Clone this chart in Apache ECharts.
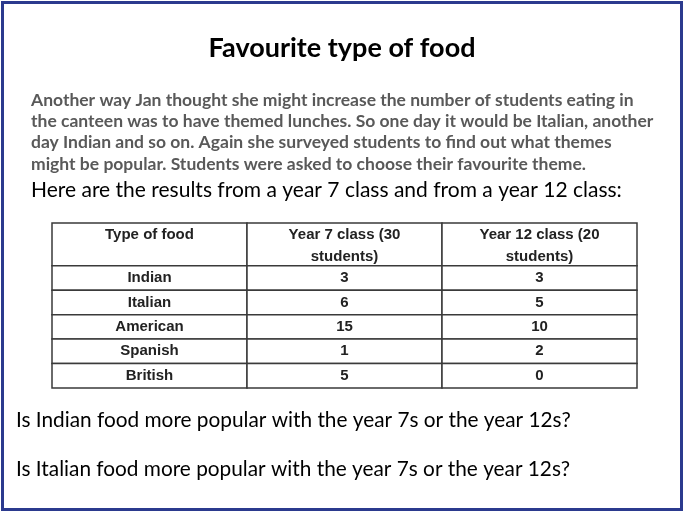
<!DOCTYPE html>
<html><head><meta charset="utf-8">
<script src="https://cdn.jsdelivr.net/npm/echarts@6/dist/echarts.min.js"></script>
<style>html,body{margin:0;padding:0;background:#fff}#c{width:685px;height:514px}</style>
</head><body><div id="c"></div>
<script>
const titleText = 'Favourite type of food';
const introLines = [
  'Another way Jan thought she might increase the number of students eating in',
  'the canteen was to have themed lunches. So one day it would be Italian, another',
  'day Indian and so on. Again she surveyed students to find out what themes',
  'might be popular. Students were asked to choose their favourite theme.'
];
const leadText = 'Here are the results from a year 7 class and from a year 12 class:';
const headers = ['Type of food', 'Year 7 class (30\nstudents)', 'Year 12 class (20\nstudents)'];
const foods = ['Indian', 'Italian', 'American', 'Spanish', 'British'];
const year7 = [3, 6, 15, 1, 5];
const year12 = [3, 5, 10, 2, 0];
const questions = [
  'Is Indian food more popular with the year 7s or the year 12s?',
  'Is Italian food more popular with the year 7s or the year 12s?'
];

const HEADER_UNITS = 1.75;
const cells = [];
headers.forEach((h, c) => cells.push({col: c, r0: 0, r1: HEADER_UNITS, text: h, header: true}));
foods.forEach((f, i) => {
  const r0 = HEADER_UNITS + i, r1 = r0 + 1;
  cells.push({col: 0, r0, r1, text: f});
  cells.push({col: 1, r0, r1, text: String(year7[i])});
  cells.push({col: 2, r0, r1, text: String(year12[i])});
});

const chart = echarts.init(document.getElementById('c'), null, {renderer: 'canvas'});
const bodyFont = 'Lato, "Open Sans", sans-serif';
const graphics = [
  {type: 'rect', shape: {x: 2.5, y: 2.5, width: 679, height: 507}, style: {fill: null, stroke: '#2B3A8E', lineWidth: 3}, z: 10},
  {type: 'text', x: 342, y: 48, style: {text: titleText, font: 'bold 27px ' + bodyFont, fill: '#000', align: 'center', verticalAlign: 'middle'}}
];
introLines.forEach((t, i) => graphics.push({type: 'text', x: 31, y: 100 + i * 21.3, style: {text: t, font: 'bold 17.5px ' + bodyFont, fill: '#595959', verticalAlign: 'middle'}}));
graphics.push({type: 'text', x: 31, y: 190, style: {text: leadText, font: '21px ' + bodyFont, fill: '#000', verticalAlign: 'middle'}});
questions.forEach((q, i) => graphics.push({type: 'text', x: 16, y: 420 + i * 49, style: {text: q, font: '20.8px ' + bodyFont, fill: '#000', verticalAlign: 'middle'}}));

chart.setOption({
  animation: false,
  grid: {left: 52, top: 223, width: 585, height: 165},
  xAxis: {type: 'value', min: 0, max: 3, show: false},
  yAxis: {type: 'value', min: 0, max: HEADER_UNITS + foods.length, inverse: true, show: false},
  graphic: graphics,
  series: [{
    type: 'custom',
    data: cells.map((c, i) => [c.col, c.r0, c.col + 1, c.r1, i]),
    encode: {x: [0, 2], y: [1, 3]},
    renderItem: function (params, api) {
      const cell = cells[params.dataIndex];
      const p0 = api.coord([api.value(0), api.value(1)]);
      const p1 = api.coord([api.value(2), api.value(3)]);
      const w = p1[0] - p0[0], h = p1[1] - p0[1];
      return {
        type: 'group',
        children: [
          {type: 'rect', shape: {x: p0[0], y: p0[1], width: w, height: h}, style: {fill: '#fff', stroke: '#3a3a3a', lineWidth: 1.5}},
          {type: 'text', x: p0[0] + w / 2, y: cell.header ? p0[1] + 1 : p0[1] + h / 2,
            style: {text: cell.text, font: 'bold 15px "Liberation Sans", Arial, sans-serif', fill: '#222', align: 'center', verticalAlign: cell.header ? 'top' : 'middle', lineHeight: 22},
            z2: 5}
        ]
      };
    }
  }]
});
</script></body></html>
